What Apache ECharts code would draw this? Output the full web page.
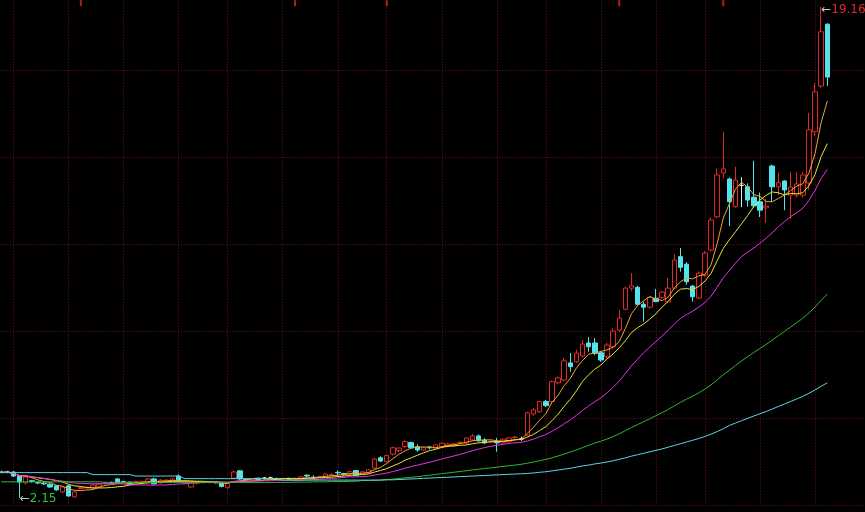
<!DOCTYPE html>
<html><head><meta charset="utf-8">
<script src="https://cdn.jsdelivr.net/npm/echarts@6/dist/echarts.min.js"></script>
<style>html,body{margin:0;padding:0;background:#000;}#c{width:865px;height:512px;}</style>
</head><body><div id="c"></div>
<script>
// weekly candles, oldest first
const opens = [3.05,3.05,3.05,2.91,2.67,2.75,2.69,2.67,2.63,2.57,2.36,2.57,2.19,2.48,2.50,2.50,2.53,2.65,2.69,2.81,
2.72,2.70,2.67,2.71,2.67,2.81,2.67,2.71,2.74,2.91,2.67,2.53,2.66,2.68,2.70,2.69,2.67,2.52,2.84,3.09,
2.80,2.78,2.80,2.84,2.85,2.83,2.80,2.82,2.80,2.81,2.94,2.87,2.86,2.88,2.93,3.04,3.00,2.98,3.10,2.98,
3.02,3.19,3.54,3.41,3.67,3.79,3.93,4.07,3.93,3.81,3.91,3.87,3.93,3.95,3.96,4.06,4.05,4.16,4.30,4.16,
4.09,4.11,4.06,4.10,4.24,4.20,4.33,5.06,5.14,5.49,5.49,6.14,6.24,6.83,6.87,7.07,7.52,7.52,7.18,7.04,
7.39,7.97,8.69,9.42,9.45,8.86,8.76,9.07,9.10,8.94,9.42,10.51,10.25,9.49,9.08,9.87,10.74,11.89,13.41,13.20,
12.24,12.98,12.93,12.57,12.41,12.20,13.65,12.93,13.13,12.64,12.64,12.64,13.06,14.84,16.42,18.56];
const closes = [3.04,3.05,2.91,2.70,2.88,2.72,2.67,2.64,2.53,2.43,2.53,2.22,2.36,2.51,2.52,2.60,2.63,2.67,2.66,2.67,
2.71,2.63,2.72,2.72,2.81,2.64,2.77,2.77,2.81,2.74,2.69,2.67,2.68,2.70,2.69,2.68,2.55,2.65,3.05,2.81,
2.78,2.80,2.79,2.84,2.85,2.81,2.82,2.80,2.83,2.88,2.91,2.85,2.89,2.98,2.96,3.02,2.97,3.06,2.94,3.06,
3.12,3.50,3.43,3.62,3.89,3.88,4.10,3.89,3.81,3.89,3.89,3.99,4.05,4.02,4.02,4.08,4.23,4.30,4.13,4.06,
4.11,4.06,4.19,4.23,4.26,4.20,5.10,5.20,5.49,5.35,6.18,6.31,6.90,6.70,7.17,7.48,7.39,7.16,6.93,7.45,
7.93,8.38,9.42,9.50,8.86,8.76,9.10,8.96,9.28,9.42,10.39,10.14,9.64,9.12,9.94,10.63,11.78,13.34,13.55,12.41,
13.16,12.98,12.47,12.27,12.12,12.26,12.93,13.07,12.82,12.92,13.03,13.34,14.90,16.22,18.30,16.73];
const lows = [3.00,3.01,2.88,2.15,2.62,2.68,2.63,2.60,2.50,2.40,2.33,2.19,2.17,2.45,2.47,2.47,2.50,2.60,2.63,2.64,
2.68,2.60,2.64,2.68,2.65,2.62,2.65,2.68,2.71,2.72,2.64,2.50,2.62,2.65,2.66,2.65,2.52,2.45,2.80,2.78,
2.74,2.75,2.76,2.80,2.81,2.78,2.77,2.77,2.78,2.79,2.86,2.80,2.83,2.86,2.90,2.89,2.92,2.95,2.92,2.95,
2.99,3.13,3.40,3.38,3.62,3.74,3.88,3.85,3.75,3.78,3.83,3.84,3.90,3.92,3.93,4.02,4.02,4.13,4.10,4.02,
4.05,3.75,4.03,4.07,4.20,4.13,4.28,5.00,5.10,5.30,5.40,6.08,6.20,6.52,6.83,7.02,7.22,7.10,6.87,7.00,
7.33,7.90,8.65,9.32,8.80,8.26,8.70,8.93,9.05,8.90,9.38,9.99,9.53,8.95,9.04,9.80,10.70,11.85,13.23,11.57,
12.20,12.23,12.24,12.20,11.88,11.68,12.41,12.64,12.12,11.81,12.55,12.55,12.82,14.70,16.35,16.42];
const highs = [3.10,3.09,3.08,2.94,2.92,2.78,2.72,2.70,2.66,2.60,2.56,2.60,2.40,2.55,2.55,2.63,2.66,2.72,2.72,2.84,
2.75,2.72,2.75,2.76,2.84,2.85,2.80,2.80,2.85,2.97,2.72,2.70,2.71,2.73,2.73,2.72,2.69,2.68,3.10,3.12,
2.82,2.83,2.83,2.88,2.89,2.85,2.85,2.85,2.86,2.90,2.97,2.93,2.92,3.00,3.00,3.10,3.02,3.08,3.12,3.09,
3.15,3.55,3.60,3.65,3.93,3.90,4.17,4.10,4.01,3.92,3.96,4.02,4.08,4.05,4.06,4.11,4.26,4.37,4.35,4.22,
4.15,4.23,4.22,4.26,4.30,4.27,5.14,5.28,5.52,5.55,6.22,6.36,7.00,7.17,7.28,7.62,7.73,7.69,7.25,7.53,
8.05,8.66,9.47,9.94,9.50,8.95,9.15,9.39,9.32,9.77,10.60,10.81,10.32,9.53,10.00,10.70,11.88,13.57,14.84,13.25,
13.62,13.26,13.05,13.83,12.73,12.51,13.70,13.42,13.16,13.44,13.44,13.44,15.49,16.52,19.16,18.60];
const ma60Lead = [2.71,2.71,2.71,2.71,2.71,2.71,2.71,2.71,2.71,2.71,2.71,2.71,2.71,2.71,2.71,2.71,2.71,
2.69,2.69,2.69,2.69,2.69,2.69,2.69,2.69,2.69,2.69,2.69,2.69,2.69,2.69,2.69,2.69,2.69,2.69,2.69,2.69,2.69,2.69,2.69,2.69,2.69,2.69,2.69,2.69,2.69,
2.69,2.69,2.70,2.70,2.70,2.71,2.71,2.71,2.72,2.72,2.72,2.73,2.73];
const ma120Lead = [3.03,3.03,3.03,3.03,3.03,3.03,3.03,3.03,3.03,3.03,3.03,3.03,3.03,3.03,3.03,
2.96,2.96,2.96,2.96,2.96,2.96,2.96,
2.91,2.91,2.91,2.91,2.91,2.91,2.91,2.91,
2.82,2.82,2.82,2.82,2.82,2.82,2.82,2.82,2.82,2.82,2.82,2.82,2.82,2.82,2.82,2.82,
2.77,2.77,2.77,2.77,2.77,2.77,2.77,2.77,2.77,2.77,2.77,2.77,2.77,2.77,2.77,2.77,2.77,
2.78,2.78,2.79,2.80,2.81,2.82,2.83,2.84,2.85,2.86,2.87,2.88,2.89,2.90,2.91,2.92,2.93,2.94,2.95,2.96,2.97,2.98,2.99,3.00,
3.02,3.04,3.06,3.09,3.12,3.15,3.18,3.22,3.26,3.29,3.33,3.36,3.40,3.44,3.49,3.54,3.60,3.65,3.70,3.75,3.80,3.85,3.91,3.97,4.03,4.09,4.15,4.21,4.28,4.36,4.45,4.55];
// week indices where a new two-month period starts (vertical separators)
const periodStarts = [2,11,20,29,37,46,55,63,72,81,89,98,107,115,124,133];
// weeks flagged by small red information marks along the top edge
const infoWeeks = [13,48,63,101,118];
const axisSlots = 142;

const slots = Array.from({length: axisSlots}, (_, i) => 'W' + (i + 1));
function movingAvg(n, lead) {
  return closes.map((_, i) => {
    if (lead && i < lead.length) return lead[i];
    const s = Math.max(0, i - n + 1);
    let sum = 0;
    for (let k = s; k <= i; k++) sum += closes[k];
    return +(sum / (i - s + 1)).toFixed(3);
  });
}
const candles = closes.map((c, i) => {
  const v = [opens[i], c, lows[i], highs[i]];
  if (opens[i] === c) return {value: v, itemStyle: {color: '#e8e8e8', color0: '#e8e8e8', borderColor: '#e8e8e8', borderColor0: '#e8e8e8'}};
  return v;
});
const gridLine = {color: '#7a1212', type: [1, 2], width: 1};
const isSep = (idx) => periodStarts.includes(idx);
const mkLine = (name, data, color) => ({
  name, type: 'line', data, symbol: 'none', xAxisIndex: 0, yAxisIndex: 0, z: 3,
  lineStyle: {color, width: 1}, silent: true
});
const chart = echarts.init(document.getElementById('c'), null, {renderer: 'canvas'});
chart.setOption({
  backgroundColor: '#000000',
  animation: false,
  grid: {left: 1.26, right: 1, top: -16.4, bottom: 7, containLabel: false, outerBoundsMode: 'none'},
  xAxis: {type: 'category', data: slots, boundaryGap: false,
    axisLine: {show: false},
    axisTick: {show: false, interval: isSep},
    axisLabel: {show: false, interval: isSep},
    splitLine: {show: true, interval: isSep, lineStyle: gridLine}},
  yAxis: [
    {type: 'value', min: 1.9075, max: 19.968, axisLine: {show: false}, axisTick: {show: false}, axisLabel: {show: false}, splitLine: {show: false}},
    {type: 'value', min: 0, max: 6, interval: 1, axisLine: {show: false}, axisTick: {show: false}, axisLabel: {show: false}, splitLine: {show: true, lineStyle: gridLine}}
  ],
  series: [
    {type: 'candlestick', data: candles, barWidth: 5, z: 2,
      itemStyle: {color: '#000000', color0: '#54e3ea', borderColor: '#e02828', borderColor0: '#54e3ea', borderWidth: 1},
      markPoint: {
        symbol: 'circle', symbolSize: 0.1, itemStyle: {color: 'rgba(0,0,0,0)'},
        data: [
          {type: 'max', valueDim: 'highest', label: {show: true, position: 'right', distance: 0, offset: [0, 3],
            formatter: (p) => '{a|←}{b|' + p.value.toFixed(2) + '}',
            rich: {a: {color: '#c8c8c8', fontSize: 12, fontFamily: 'DejaVu Sans'}, b: {color: '#e02828', fontSize: 12, fontFamily: 'DejaVu Sans'}}}},
          {type: 'min', valueDim: 'lowest', label: {show: true, position: 'right', distance: 0, offset: [0, 1],
            formatter: (p) => '{a|←}{b|' + p.value.toFixed(2) + '}',
            rich: {a: {color: '#c8c8c8', fontSize: 12, fontFamily: 'DejaVu Sans'}, b: {color: '#2ec82e', fontSize: 12, fontFamily: 'DejaVu Sans'}}}}
        ]
      }
    },
    mkLine('MA5', movingAvg(5), '#f0a22e'),
    mkLine('MA10', movingAvg(10), '#e6e632'),
    mkLine('MA20', movingAvg(20), '#e832e8'),
    mkLine('MA60', movingAvg(60, ma60Lead), '#2eb82e'),
    mkLine('MA120', movingAvg(120, ma120Lead), '#5fd3e0'),
    {type: 'scatter', yAxisIndex: 1, z: 4, silent: true, symbol: 'rect', symbolSize: [2, 6],
      itemStyle: {color: '#e02828'},
      data: infoWeeks.map((w) => [w, 5.775])}
  ]
});
</script></body></html>
